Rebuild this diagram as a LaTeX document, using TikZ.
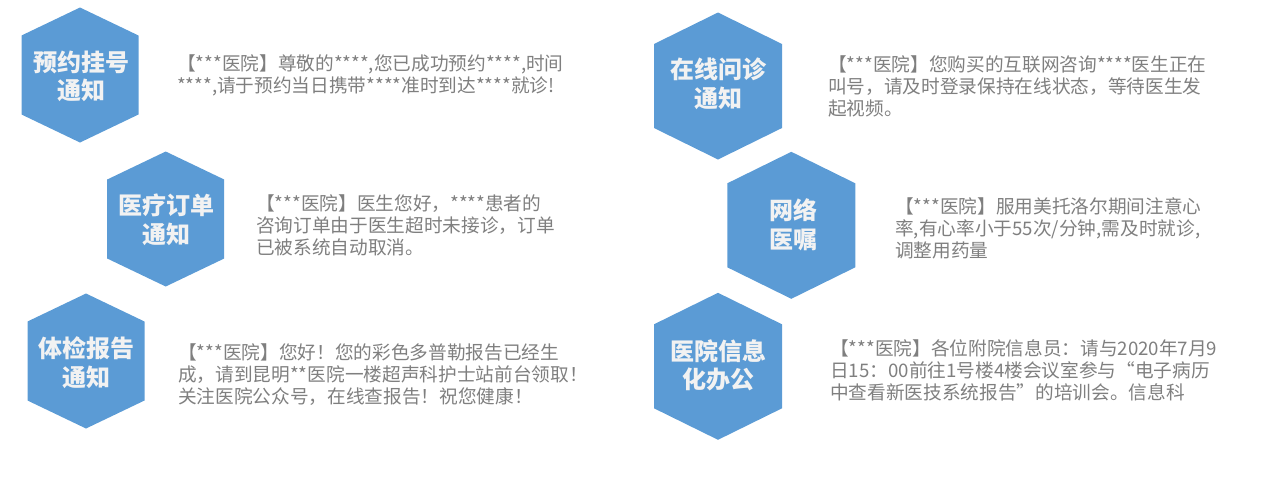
\documentclass[tikz,border=0pt]{standalone}
\usepackage{fontspec}
\setmainfont{Noto Sans CJK SC}
\definecolor{hexblue}{HTML}{5B9BD5}
\definecolor{msggray}{HTML}{7F7F7F}
\definecolor{labelwhite}{HTML}{F2F2F2}
\begin{document}
\begin{tikzpicture}[x=0.75pt,y=-0.75pt,
  hexlabel/.style={text=labelwhite,font=\fontsize{18}{21.5}\selectfont\bfseries,align=center,inner sep=0pt},
  msg/.style={text=msggray,font=\fontsize{14}{16.5}\selectfont,align=left,anchor=west,inner sep=0pt}]
\useasboundingbox (0,0) rectangle (1266,490);
% left column
\fill[hexblue] (80,75) +(0,-67.5) -- +(58.5,-39.5) -- +(58.5,39.5) -- +(0,67.5) -- +(-58.5,39.5) -- +(-58.5,-39.5) -- cycle;
\fill[hexblue] (165.7,219) +(0,-67.5) -- +(58.5,-39.5) -- +(58.5,39.5) -- +(0,67.5) -- +(-58.5,39.5) -- +(-58.5,-39.5) -- cycle;
\fill[hexblue] (86,361) +(0,-67.5) -- +(58.5,-39.5) -- +(58.5,39.5) -- +(0,67.5) -- +(-58.5,39.5) -- +(-58.5,-39.5) -- cycle;
\node[hexlabel] (guahao) at (81.5,76.5) {预约挂号\\通知};
\node[hexlabel] (dingdan) at (166,220) {医疗订单\\通知};
\node[hexlabel] (tijian) at (86,363) {体检报告\\通知};
\node[msg] (guahaomsg) at (177,75) {【***医院】尊敬的****,您已成功预约****,时间\\****,请于预约当日携带****准时到达****就诊!};
\node[msg] (dingdanmsg) at (256,225) {【***医院】医生您好，****患者的\\咨询订单由于医生超时未接诊，订单\\已被系统自动取消。};
\node[msg] (tijianmsg) at (178,374.5) {【***医院】您好！您的彩色多普勒报告已经生\\成，请到昆明**医院一楼超声科护士站前台领取！\\关注医院公众号，在线查报告！祝您健康！};
% right column
\fill[hexblue] (718,86) +(0,-73.5) -- +(64,-42) -- +(64,42) -- +(0,73.5) -- +(-64,42) -- +(-64,-42) -- cycle;
\fill[hexblue] (791.3,225.3) +(0,-73.5) -- +(64,-42) -- +(64,42) -- +(0,73.5) -- +(-64,42) -- +(-64,-42) -- cycle;
\fill[hexblue] (718,366.3) +(0,-73.5) -- +(64,-42) -- +(64,42) -- +(0,73.5) -- +(-64,42) -- +(-64,-42) -- cycle;
\node[hexlabel] (wenzhen) at (718,84) {在线问诊\\通知};
\node[hexlabel] (yizhu) at (793,225) {网络\\医嘱};
\node[hexlabel] (bangong) at (718,365.5) {医院信息\\化办公};
\node[msg] (wenzhenmsg) at (828,86) {【***医院】您购买的互联网咨询****医生正在\\叫号，请及时登录保持在线状态，等待医生发\\起视频。};
\node[msg] (yizhumsg) at (895,228.5) {【***医院】服用美托洛尔期间注意心\\率,有心率小于55次/分钟,需及时就诊,\\调整用药量};
\node[msg] (bangongmsg) at (830,370.5) {【***医院】各位附院信息员：请与2020年7月9\\日15：00前往1号楼4楼会议室参与“电子病历\\中查看新医技系统报告”的培训会。信息科};
\end{tikzpicture}
\end{document}
